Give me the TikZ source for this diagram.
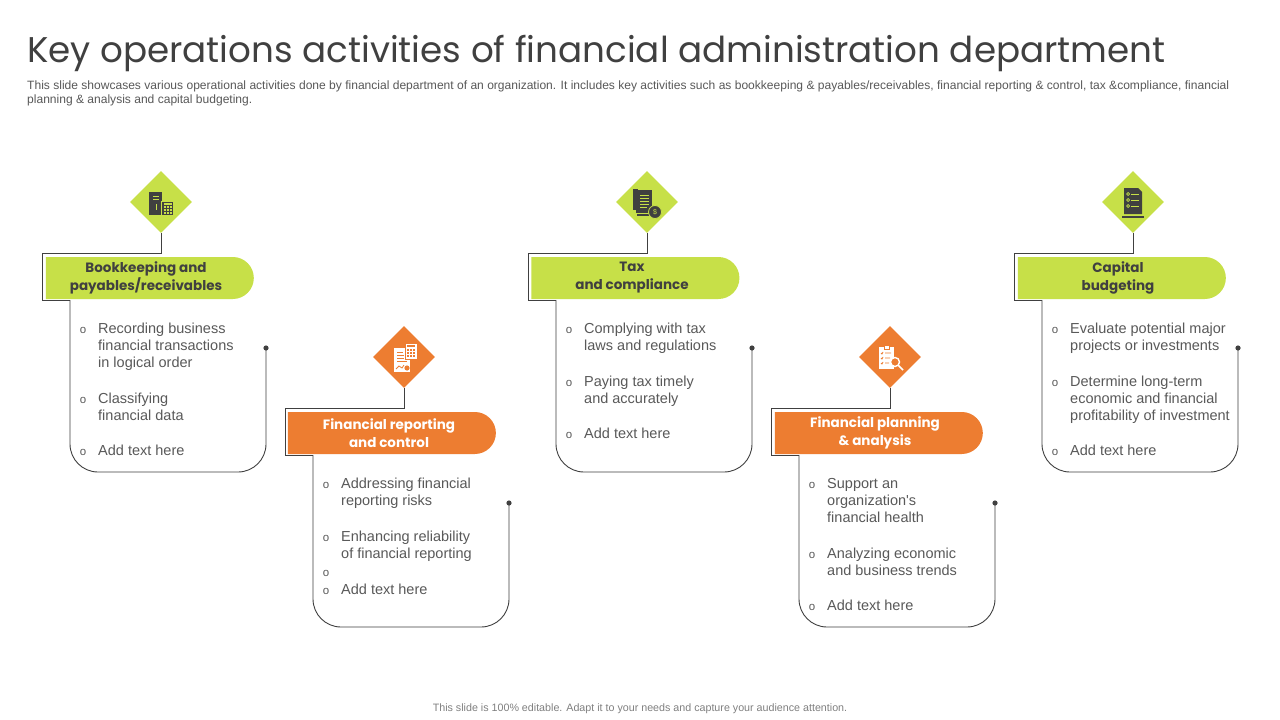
\documentclass[tikz,border=0pt]{standalone}
\usepackage{xcolor}
\usepackage{fontspec}
\setmainfont{Liberation Sans}
\newfontfamily\headfont{Poppins}
\usetikzlibrary{shapes.geometric,shapes.misc}

\definecolor{leaf}{RGB}{199,224,72}
\definecolor{rust}{RGB}{237,125,49}
\definecolor{ink}{RGB}{64,64,64}
\definecolor{bodygray}{RGB}{89,89,89}

\tikzset{
  gem/.style={diamond, minimum width=62pt, minimum height=62pt, inner sep=0pt},
  frame/.style={draw=ink, line width=0.9pt},
  pill/.style={rounded rectangle, rounded rectangle left arc=none,
    minimum width=208pt, minimum height=42pt, inner sep=0pt, align=center,
    font=\headfont\bfseries\fontsize{13.5}{18}\selectfont},
  bul/.style={anchor=base, inner sep=0pt, text=bodygray,
    font=\fontsize{11.5}{12}\selectfont},
  % multi-line nodes sit on the baseline of their last line
  item/.style={anchor=base west, align=left, inner sep=0pt, text=bodygray,
    font=\fontsize{14.5}{17.3}\selectfont},
}

\begin{document}
\begin{tikzpicture}[x=1pt,y=-1pt]
  \useasboundingbox (0,0) rectangle (1280,720);
  \fill[white] (0,0) rectangle (1280,720);

  % heading
  \node[anchor=base west, inner sep=0pt, text=ink, font=\headfont\fontsize{35.7}{40}\selectfont]
    (title) at (27,62) {Key operations activities of financial administration department};
  \node[anchor=base west, align=left, inner sep=0pt, text=bodygray, font=\fontsize{12.05}{14}\selectfont]
    (intro) at (27,103) {This slide showcases various operational activities done by financial department of an organization. It includes key activities such as  bookkeeping \& payables/receivables, financial reporting \& control, tax \&compliance, financial\\planning \& analysis and capital budgeting.};

  % frames
  \foreach \cx/\ty/\n/\col in {161/0/1/leaf, 404/155/2/rust, 647/0/3/leaf, 890/155/4/rust, 1133/0/5/leaf}{
    \node[gem, fill=\col] (d\n) at (\cx,202+\ty) {};
    \draw[frame] (d\n.south) |- (\cx-119,253+\ty) -- (\cx-119,300+\ty) -- (\cx-91,300+\ty);
    \draw[frame, rounded corners=28pt] (\cx-91,300+\ty) -- (\cx-91,472+\ty)
      -- (\cx+105,472+\ty) -- (\cx+105,348+\ty);
    \fill[ink] (\cx+105,348+\ty) circle (2.6pt);
  }

  % headers
  \node[pill, fill=leaf, text=ink] (h1) at (146,278) {Bookkeeping and\\payables/receivables};
  \node[pill, fill=rust, text=white] (h2) at (389,433) {Financial reporting\\and control};
  \node[pill, fill=leaf, text=ink] (h3) at (632,278) {Tax\\and compliance};
  \node[pill, fill=rust, text=white] (h4) at (875,433) {Financial planning\\\& analysis};
  \node[pill, fill=leaf, text=ink] (h5) at (1118,278) {Capital\\budgeting};

  % icons
  \begin{scope}[shift={(d1.center)}]
    \fill[ink] (-12,-10) rectangle (1,13);
    \draw[leaf, line width=0.8pt] (-8,-6) -- (-2,-6) (-8,-3) -- (-2,-3) (-5,2) -- (-5,8);
    \fill[ink, draw=leaf, line width=0.8pt] (0,-1) rectangle (12,13);
    \foreach \i in {0,1,2}{\foreach \j in {0,1,2}{
      \fill[leaf] (2.5+\i*3.2,4+\j*3) rectangle ++(2,2);}}
    \fill[leaf] (2.5,0.8) rectangle (10.5,2.6);
  \end{scope}
  \begin{scope}[shift={(d2.center)}]
    \fill[white] (-10,-9) rectangle (6,15);
    \draw[rust, line width=0.8pt] (-7,-5) -- (-1,-5) (-7,-2) -- (0,-2) (-7,1) -- (0,1) (-7,4) -- (3,4);
    \draw[rust, line width=0.8pt] (-8,12) -- (-5,9) -- (-2,11) -- (0,8);
    \fill[rust] (3,11) circle (2.6pt);
    \fill[white, draw=rust, line width=0.8pt] (1,-14) rectangle (13,2);
    \foreach \i in {0,1,2}{\foreach \j in {0,1,2}{
      \fill[rust] (3+\i*3.2,-8+\j*3) rectangle ++(2,2);}}
    \fill[rust] (3,-12) rectangle (11,-10);
  \end{scope}
  \begin{scope}[shift={(d3.center)}]
    \fill[ink] (-14,-13) rectangle (-9,8);
    \fill[ink] (-11,-12) rectangle (5,11);
    \draw[leaf, line width=0.8pt] (-7,-7) -- (2,-7) (-7,-4) -- (2,-4) (-7,-1) -- (2,-1) (-7,2) -- (2,2) (-7,5) -- (0,5);
    \fill[ink] (-10,12) rectangle (3,14);
    \fill[ink, draw=leaf, line width=0.8pt] (8,10) circle (6.5pt);
    \node[inner sep=0pt, text=leaf, font=\fontsize{7}{7}\selectfont] (c3) at (8,10) {\$};
  \end{scope}
  \begin{scope}[shift={(d4.center)}]
    \fill[white] (-11,-10) rectangle (4,12);
    \fill[white, draw=rust, line width=0.6pt] (-6,-12) rectangle (-1,-8);
    \draw[rust, line width=0.8pt] (-9,-4) -- (-8,-3) -- (-7,-5) (-5,-4) -- (1,-4)
      (-9,1) -- (-8,2) -- (-7,0) (-5,1) -- (0,1) (-9,6) -- (-8,7) -- (-7,5) (-5,6) -- (-1,6);
    \draw[white, line width=1.6pt] (8,8) -- (13,13);
    \fill[rust, draw=white, line width=1.4pt] (5,5) circle (4.5pt);
  \end{scope}
  \begin{scope}[shift={(d5.center)}]
    \fill[ink] (-9,-14) -- (5,-14) -- (9,-10) -- (9,12) -- (-9,12) -- cycle;
    \foreach \k in {-8,-2,4}{
      \draw[leaf, line width=0.7pt] (-5,\k) circle (1.5pt);
      \draw[leaf, line width=0.8pt] (-2,\k) -- (6,\k);}
    \fill[ink] (-11,13.5) rectangle (11,15.5);
  \end{scope}

  % column 1
  \node[bul] (o11) at (83,333) {o};
  \node[item] (t11) at (98,367.6) {Recording business\\financial transactions\\in logical order};
  \node[bul] (o12) at (83,403) {o};
  \node[item] (t12) at (98,420.3) {Classifying\\financial data};
  \node[bul] (o13) at (83,455) {o};
  \node[item] (t13) at (98,455) {Add text here};

  % column 2
  \node[bul] (o21) at (326,488) {o};
  \node[item] (t21) at (341,505.3) {Addressing financial\\reporting risks};
  \node[bul] (o22) at (326,541) {o};
  \node[item] (t22) at (341,558.3) {Enhancing reliability\\of financial reporting};
  \node[bul] (o23) at (326,576) {o};
  \node[bul] (o24) at (326,594) {o};
  \node[item] (t24) at (341,594) {Add text here};

  % column 3
  \node[bul] (o31) at (569,333) {o};
  \node[item] (t31) at (584,350.3) {Complying with tax\\laws and regulations};
  \node[bul] (o32) at (569,386) {o};
  \node[item] (t32) at (584,403.3) {Paying tax timely\\and accurately};
  \node[bul] (o33) at (569,438) {o};
  \node[item] (t33) at (584,438) {Add text here};

  % column 4
  \node[bul] (o41) at (812,488) {o};
  \node[item] (t41) at (827,522.6) {Support an\\organization\textquotesingle s\\financial health};
  \node[bul] (o42) at (812,558) {o};
  \node[item] (t42) at (827,575.3) {Analyzing economic\\and business trends};
  \node[bul] (o43) at (812,610) {o};
  \node[item] (t43) at (827,610) {Add text here};

  % column 5
  \node[bul] (o51) at (1055,333) {o};
  \node[item] (t51) at (1070,350.3) {Evaluate potential major\\projects or investments};
  \node[bul] (o52) at (1055,386) {o};
  \node[item] (t52) at (1070,420.6) {Determine long-term\\economic and financial\\profitability of investment};
  \node[bul] (o53) at (1055,455) {o};
  \node[item] (t53) at (1070,455) {Add text here};

  % footer
  \node[anchor=base, inner sep=0pt, text=gray, font=\fontsize{10.7}{12}\selectfont]
    (foot) at (640,711) {This slide is 100\% editable.  Adapt it to your needs and capture your audience attention.};
\end{tikzpicture}
\end{document}
